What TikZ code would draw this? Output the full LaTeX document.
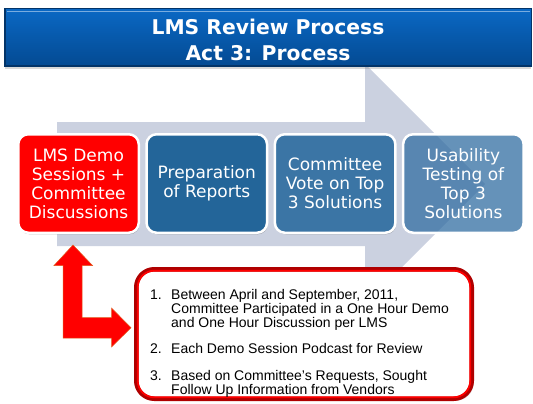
\documentclass[tikz,border=0pt]{standalone}
\usepackage{fontspec}
\setmainfont{DejaVu Sans}
\newfontfamily\listfont{Liberation Sans}
\usetikzlibrary{shadows}

\definecolor{titletop}{RGB}{10,104,196}
\definecolor{titlebot}{RGB}{4,74,146}
\definecolor{titleedge}{RGB}{3,52,104}
\definecolor{flowgrey}{RGB}{203,209,224}
\definecolor{stepred}{RGB}{255,0,0}
\definecolor{stepblueA}{RGB}{35,101,153}
\definecolor{stepblueB}{RGB}{59,117,165}
\definecolor{stepblueC}{RGB}{50,110,162}
\definecolor{noteedge}{RGB}{175,0,0}
\definecolor{arrowedge}{RGB}{225,90,30}

\begin{document}
\begin{tikzpicture}[x=1pt,y=-1pt,
  stepbox/.style={draw=white, line width=2.5pt, rounded corners=10pt,
    minimum width=120.5pt, minimum height=98.5pt, inner sep=0pt,
    text=white, align=center, font=\fontsize{17}{19}\selectfont},
  stepshadow/.style={drop shadow={shadow xshift=0.8pt, shadow yshift=-1.5pt,
    opacity=0.25, fill=black}},
  ]
\useasboundingbox (0,0) rectangle (533,404);

% broad process arrow in the background
\fill[flowgrey] (57,122) -- (365,122) -- (365,64) -- (485,184)
  -- (365,304) -- (365,246) -- (57,246) -- cycle;

% title bar
\node[draw=titleedge, line width=1.5pt, top color=titletop, bottom color=titlebot,
  minimum width=526.5pt, minimum height=57.5pt, inner sep=0pt,
  drop shadow={shadow xshift=0pt, shadow yshift=-2.5pt, opacity=0.3}] (title) at (268,37.5) {};
\draw[titletop!55!white, line width=0.6pt] (6.5,11) -- (529.5,11);
\node[text=white, align=center, inner sep=0pt,
  font=\bfseries\fontsize{20.3}{26}\selectfont] (titletext) at (268,40)
  {LMS Review Process\\Act 3: Process};

% process steps
\node[stepbox, stepshadow, fill=stepred] (s1) at (78.5,183.5)
  {LMS Demo\\Sessions +\\Committee\\Discussions};
\node[stepbox, stepshadow, fill=stepblueA] (s2) at (206.8,183.5)
  {Preparation\\of Reports};
\node[stepbox, stepshadow, fill=stepblueB] (s3) at (335.1,183.5)
  {Committee\\Vote on Top\\3 Solutions};
\node[stepbox, fill=stepblueC, fill opacity=0.75, text opacity=1] (s4) at (463.4,183.5)
  {Usability\\Testing of\\Top 3\\Solutions};

% bent arrow from the first step to its notes
\filldraw[fill=stepred, draw=arrowedge, line width=0.5pt]
  (73,245) -- (92.5,265.5) -- (82,265.5) -- (82,317.5) -- (111.5,317.5)
  -- (111.5,308) -- (131,327.75) -- (111.5,347) -- (111.5,338)
  -- (63,338) -- (63,265.5) -- (54,265.5) -- cycle;

% notes panel
\node[draw=noteedge, line width=4.5pt, fill=white, rounded corners=18pt,
  minimum width=335.5pt, minimum height=129.5pt, inner sep=0pt,
  drop shadow={shadow xshift=2pt, shadow yshift=-2pt, opacity=0.3}] (notes) at (304,334) {};
\draw[stepred, line width=1.8pt, rounded corners=16.5pt] (137.7,270.7) rectangle (470.3,397.3);

\node[anchor=base west, inner sep=0pt, font=\listfont\fontsize{14}{14}\selectfont] (items) at (150,299)
  {\begin{tabular}[t]{@{}p{21pt}@{}l@{}}
   1.&Between April and September, 2011,\\
     &Committee Participated in a One Hour Demo\\
     &and One Hour Discussion per LMS\\[11pt]
   2.&Each Demo Session Podcast for Review\\[13pt]
   3.&Based on Committee’s Requests, Sought\\
     &Follow Up Information from Vendors
   \end{tabular}};
\end{tikzpicture}
\end{document}
